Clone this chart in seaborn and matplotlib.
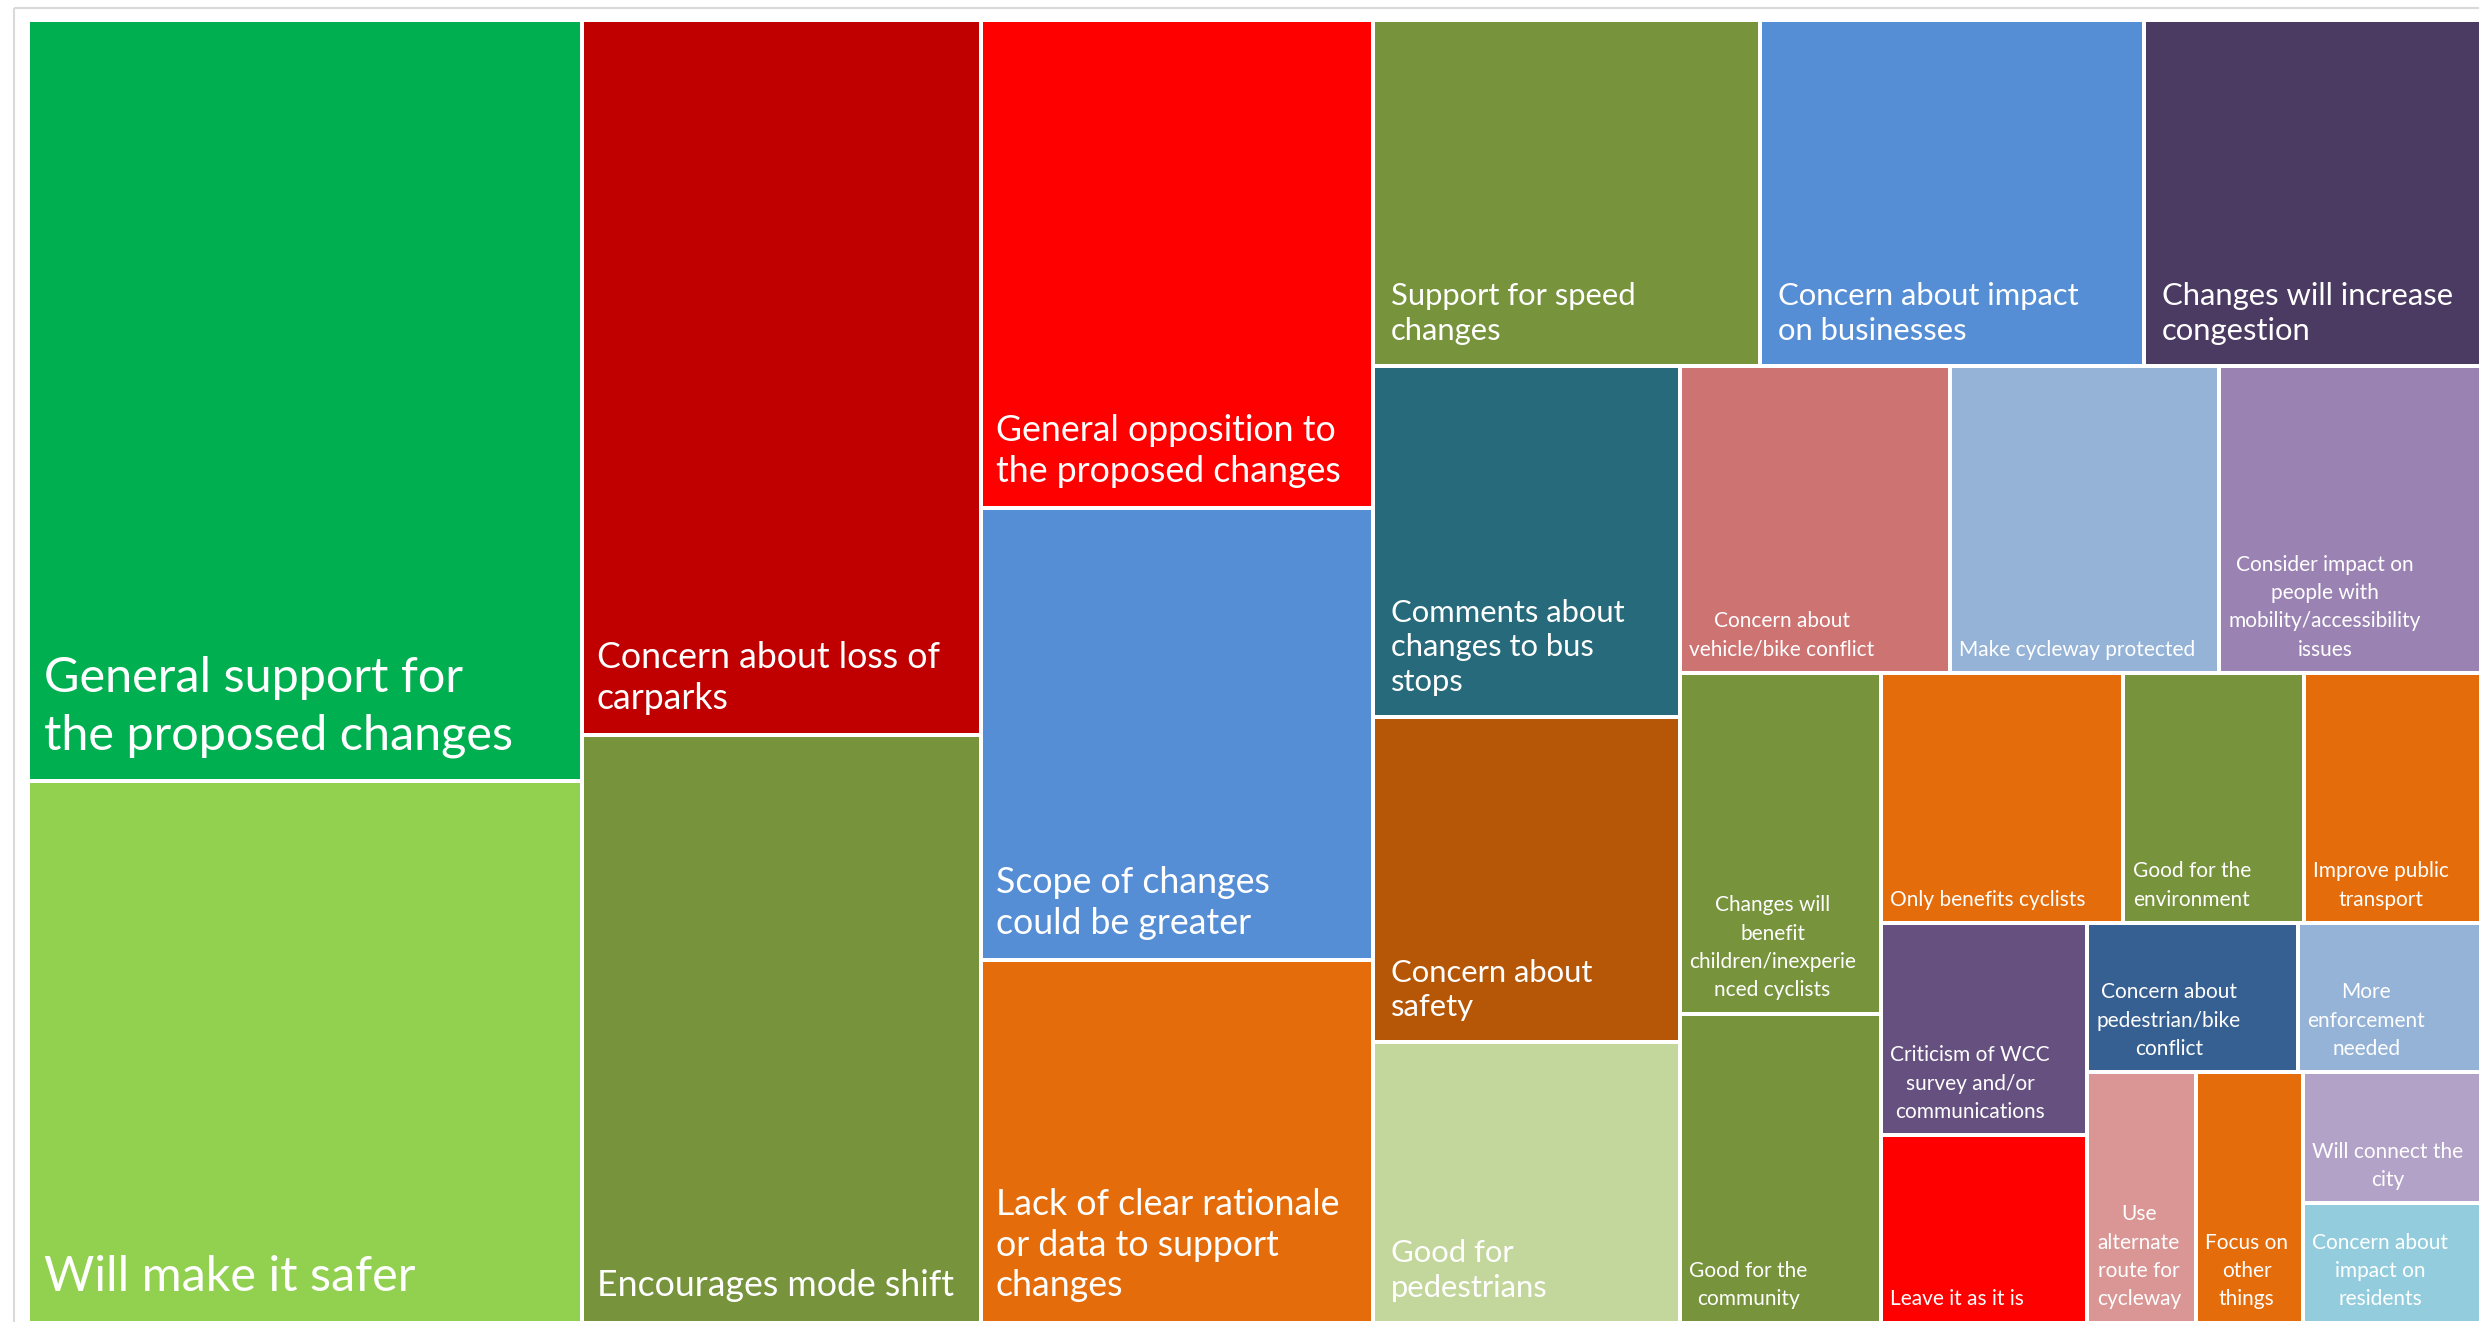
import numpy as np
import matplotlib
matplotlib.use("Agg")
import matplotlib.pyplot as plt
from matplotlib.patches import Rectangle
import seaborn as sns

# Themes from the consultation comments (label text as shown in the tiles)
categories = [
    "General support for\nthe proposed changes",
    "Will make it safer",
    "Concern about loss of\ncarparks",
    "Encourages mode shift",
    "General opposition to\nthe proposed changes",
    "Scope of changes\ncould be greater",
    "Lack of clear rationale\nor data to support\nchanges",
    "Support for speed\nchanges",
    "Concern about impact\non businesses",
    "Changes will increase\ncongestion",
    "Comments about\nchanges to bus\nstops",
    "Concern about\nsafety",
    "Good for\npedestrians",
    "Concern about\nvehicle/bike conflict",
    "Make cycleway protected",
    "Consider impact on\npeople with\nmobility/accessibility\nissues",
    "Changes will\nbenefit\nchildren/inexperie\nnced cyclists",
    "Good for the\ncommunity",
    "Only benefits cyclists",
    "Good for the\nenvironment",
    "Improve public\ntransport",
    "Criticism of WCC\nsurvey and/or\ncommunications",
    "Leave it as it is",
    "Concern about\npedestrian/bike\nconflict",
    "More\nenforcement\nneeded",
    "Use\nalternate\nroute for\ncycleway",
    "Focus on\nother\nthings",
    "Will connect the\ncity",
    "Concern about\nimpact on\nresidents",
]

# relative size of each theme (read from the tile areas)
sizes = [
    421.9, 299.9, 285.5, 234.6, 191.3, 177.0, 142.3, 133.9, 133.0, 116.5,
    107.8, 99.8, 86.1, 82.9, 82.8, 80.3, 68.6, 62.2, 60.6, 45.1,
    44.3, 43.8, 38.7, 31.5, 27.4, 27.2, 26.8, 23.3, 21.3,
]

# styling
tile_colors = [
    "#00B050", "#92D050", "#C00000", "#77933C", "#FF0000", "#558ED5", "#E46C0A",
    "#77933C", "#558ED5", "#4B3A62", "#266A7B", "#B65708", "#C3D69B",
    "#CD7371", "#95B3D7", "#9A83B3", "#77933C", "#77933C", "#E46C0A",
    "#77933C", "#E46C0A", "#65507F", "#FF0000", "#376092", "#95B3D7",
    "#D99694", "#E46C0A", "#B3A2C7", "#93CDDD",
]
label_tier = [0] * 2 + [1] * 5 + [2] * 6 + [3] * 16
tier_pt = [35, 25.7, 22.3, 15]          # font size
tier_spacing = [1.37, 1.28, 1.3, 1.52]  # line spacing
tier_pad_x = [17, 15, 18, 9.5]          # px from tile's left edge
tier_pad_y = [23.4, 20, 20.6, 13.1]     # px from tile's bottom edge
centred_labels = {13, 15, 16, 17, 20, 21, 23, 24, 25, 26, 27, 28}

W_PX, H_PX, DPI = 2479, 1322, 100
TARGET = 0.845   # preferred width/height of a tile when growing a strip
GAP = 2          # white border half width, px


def squarify(values, x, y, w, h, target):
    """Strip treemap: strips run along the shorter side and grow while the
    newest tile gets closer to the target aspect ratio."""
    order = sorted(range(len(values)), key=lambda i: -values[i])
    total = float(sum(values))
    area = [values[i] * w * h / total for i in order]
    out = {}
    i, n = 0, len(area)
    while i < n:
        vertical = w >= h
        side = h if vertical else w

        def score(k, s):
            t = s / side
            r = t * t / area[k] if vertical else area[k] / (t * t)
            return abs(np.log(r / target))

        s = area[i]
        best = score(i, s)
        j = i + 1
        while j < n:
            sc = score(j, s + area[j])
            if sc > best:
                break
            best = sc
            s += area[j]
            j += 1
        t = s / side
        pos = 0.0
        for k in range(i, j):
            length = area[k] / t
            if vertical:
                out[order[k]] = (x, y + pos, t, length)
            else:
                out[order[k]] = (x + pos, y, length, t)
            pos += length
        if vertical:
            x += t
            w -= t
        else:
            y += t
            h -= t
        i = j
    return [out[k] for k in range(len(values))]


sns.set_theme(style="white")
plt.rcParams["font.family"] = ["Lato", "DejaVu Sans"]

fig = plt.figure(figsize=(W_PX / DPI, H_PX / DPI), dpi=DPI)
ax = fig.add_axes([0, 0, 1, 1])
ax.set_xlim(0, W_PX)
ax.set_ylim(H_PX, 0)
ax.axis("off")

# chart frame (cut off at the right and bottom)
ax.add_patch(Rectangle((13.5, 7.5), 4000, 4000, fill=False,
                       edgecolor="#D9D9D9", lw=1.5))

cells = squarify(sizes, 27.5, 20, 2481 - 27.5, 1322.5 - 20, TARGET)

for idx, (cx, cy, cw, ch) in enumerate(cells):
    ax.add_patch(Rectangle((cx + GAP, cy + GAP), cw - 2 * GAP, ch - 2 * GAP,
                           facecolor=tile_colors[idx], edgecolor="none"))
    t = label_tier[idx]
    ax.text(cx + tier_pad_x[t], cy + ch - tier_pad_y[t], categories[idx],
            ha="left", va="bottom",
            multialignment="center" if idx in centred_labels else "left",
            fontsize=tier_pt[t], color="white", linespacing=tier_spacing[t])

fig.savefig("out.png", dpi=DPI)
